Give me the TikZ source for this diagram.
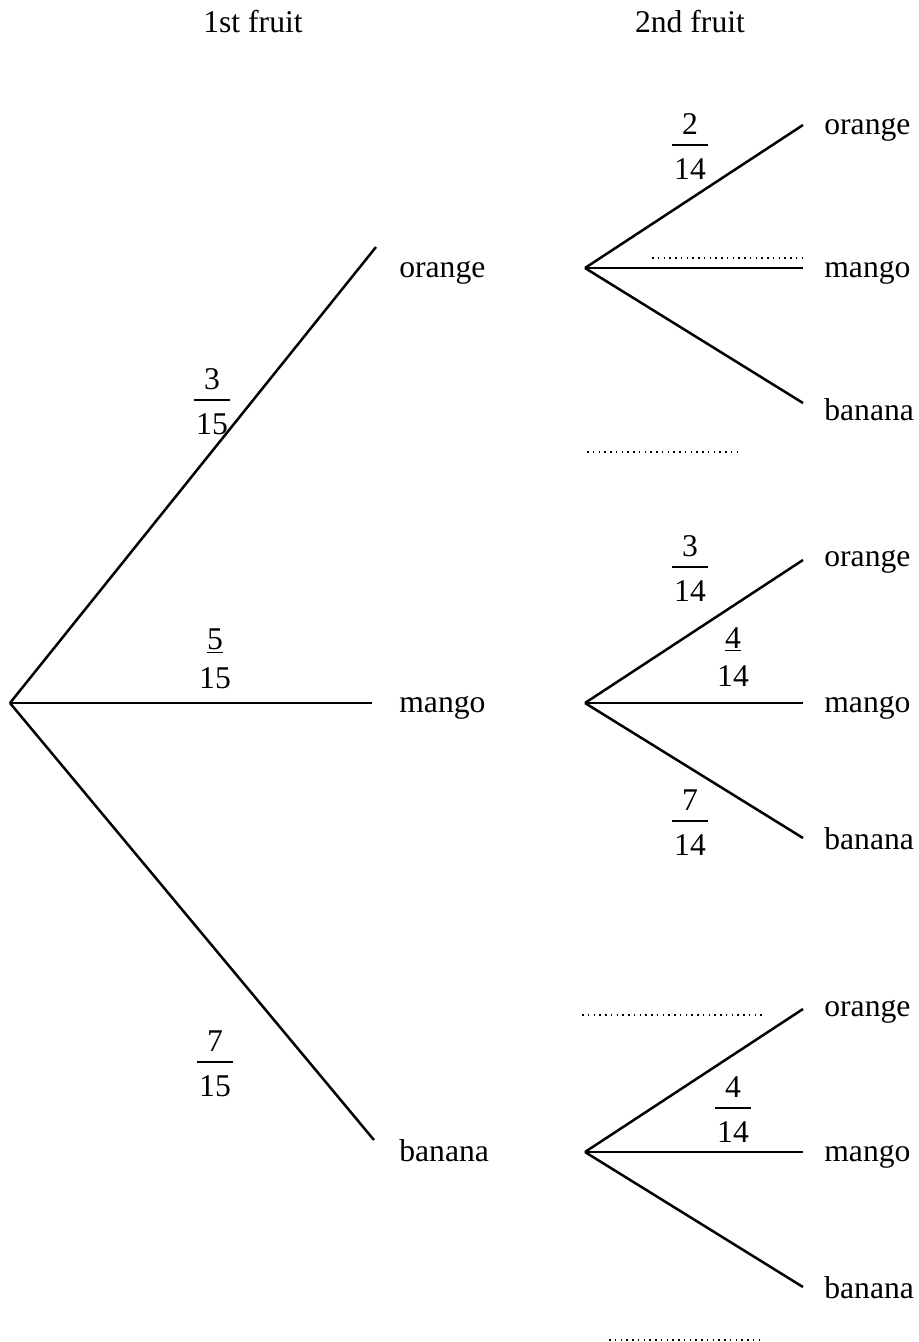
\documentclass[tikz,border=0pt]{standalone}
\usepackage{fontspec}
\setmainfont{Liberation Serif}
\usetikzlibrary{positioning}
% stacked fraction with a bar
\newcommand{\fr}[2]{\setlength{\arrayrulewidth}{1pt}%
\begin{tabular}{@{\hspace{1pt}}c@{\hspace{1pt}}}#1\\[-1.2pt]\hline\rule{0pt}{19pt}#2\end{tabular}}
\begin{document}
\begin{tikzpicture}[x=0.2mm,y=-0.2mm,
  font=\fontsize{18}{22}\selectfont,
  branch/.style={line width=0.5mm},
  dotline/.style={line width=0.3mm, dash pattern=on 0.3mm off 0.85mm},
  lbl/.style={anchor=base west, inner sep=0pt}]
\useasboundingbox (0,0) rectangle (919,1342);
% headings
\node[anchor=base] (h1) at (253,32) {1st fruit};
\node[anchor=base] (h2) at (690,32) {2nd fruit};
% first fruit
\coordinate (root) at (10,703);
\coordinate (e1) at (376,247);
\coordinate (e2) at (372,703);
\coordinate (e3) at (374,1140);
\node[lbl] (o1) at (399,277) {orange};
\node[lbl] (m1) at (399,712) {mango};
\node[lbl] (b1) at (399,1161) {banana};
\draw[branch] (root) -- (e1);
\draw[branch] (root) -- (e2);
\draw[branch] (root) -- (e3);
\node (f1) at (212,404) {\fr{3}{15}};
\node[align=center, inner sep=0pt] (f2) at (215,659) {\underline{5}\\15};
\node (f3) at (215,1066) {\fr{7}{15}};
% second fruit after orange
\coordinate (v1) at (585,268);
\coordinate (e11) at (803,125);
\coordinate (e12) at (803,268);
\coordinate (e13) at (803,403);
\node[lbl] (o11) at (824,134) {orange};
\node[lbl] (m12) at (824,277) {mango};
\node[lbl] (b13) at (824,420) {banana};
\draw[branch] (v1) -- (e11);
\draw[branch] (v1) -- (e12);
\draw[branch] (v1) -- (e13);
\node (g1) at (690,149) {\fr{2}{14}};
\coordinate (d1a) at (652,258);
\coordinate (d1b) at (806,258);
\draw[dotline] (d1a) -- (d1b);
\coordinate (d2a) at (587,452);
\coordinate (d2b) at (741,452);
\draw[dotline] (d2a) -- (d2b);
% second fruit after mango
\coordinate (v2) at (585,703);
\coordinate (e21) at (803,560);
\coordinate (e22) at (803,703);
\coordinate (e23) at (803,838);
\node[lbl] (o21) at (824,566) {orange};
\node[lbl] (m22) at (824,712) {mango};
\node[lbl] (b23) at (824,849) {banana};
\draw[branch] (v2) -- (e21);
\draw[branch] (v2) -- (e22);
\draw[branch] (v2) -- (e23);
\node (g2) at (690,571) {\fr{3}{14}};
\node[align=center, inner sep=0pt] (g3) at (733,657) {\underline{4}\\14};
\node (g4) at (690,825) {\fr{7}{14}};
% second fruit after banana
\coordinate (v3) at (585,1152);
\coordinate (e31) at (803,1009);
\coordinate (e32) at (803,1152);
\coordinate (e33) at (803,1287);
\node[lbl] (o31) at (824,1016) {orange};
\node[lbl] (m32) at (824,1161) {mango};
\node[lbl] (b33) at (824,1298) {banana};
\draw[branch] (v3) -- (e31);
\draw[branch] (v3) -- (e32);
\draw[branch] (v3) -- (e33);
\node (g5) at (733,1112) {\fr{4}{14}};
\coordinate (d3a) at (582,1015);
\coordinate (d3b) at (763,1015);
\draw[dotline] (d3a) -- (d3b);
\coordinate (d4a) at (609,1340);
\coordinate (d4b) at (763,1340);
\draw[dotline] (d4a) -- (d4b);
\end{tikzpicture}
\end{document}
